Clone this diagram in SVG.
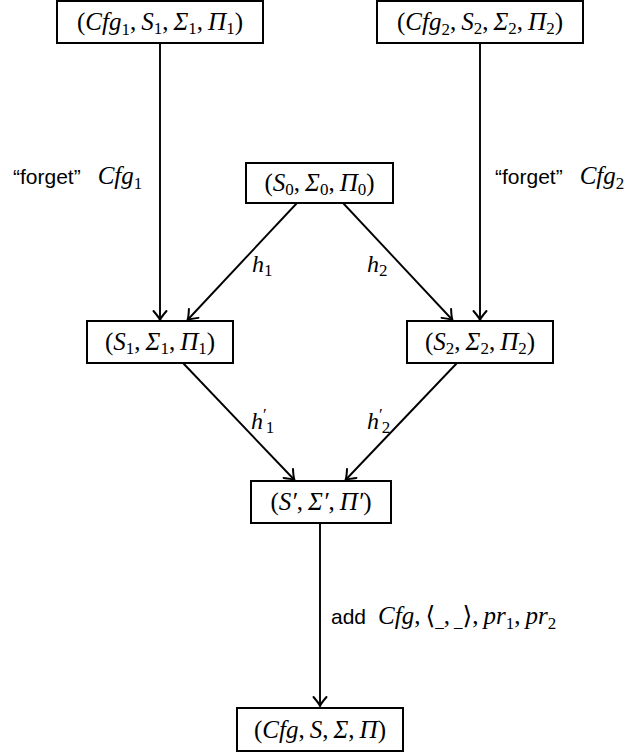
<svg xmlns="http://www.w3.org/2000/svg" width="631" height="756" viewBox="0 0 631 756">
<style>
.box{fill:#fff;stroke:#000;stroke-width:2}
.m{font-family:"Liberation Serif","DejaVu Serif",serif;font-size:25px;fill:#000}
.h{font-size:24px}
.i{font-style:italic}
.s{font-size:17px;font-style:normal}
.t{font-family:"Liberation Sans","DejaVu Sans",sans-serif;font-size:21px;fill:#000}
.c{stroke:#000;stroke-width:1.9;fill:none}
</style>
<defs>
<marker id="ah" markerUnits="userSpaceOnUse" viewBox="-12 -8 14 16" refX="0" refY="0" markerWidth="14" markerHeight="16" orient="auto" overflow="visible">
<path d="M -9,-6.5 Q -3,-1.3 0,0 Q -3,1.3 -9,6.5" fill="none" stroke="#000" stroke-width="2" stroke-linecap="round" stroke-linejoin="round"/>
</marker>
</defs>
<g id="connectors">
<line class="c" x1="160" y1="43" x2="160" y2="320" marker-end="url(#ah)"/>
<line class="c" x1="480" y1="43" x2="480" y2="320" marker-end="url(#ah)"/>
<line class="c" x1="297" y1="203" x2="187.5" y2="320" marker-end="url(#ah)"/>
<line class="c" x1="343" y1="203" x2="452.5" y2="320" marker-end="url(#ah)"/>
<line class="c" x1="183" y1="363" x2="294.5" y2="480" marker-end="url(#ah)"/>
<line class="c" x1="457" y1="363" x2="345.5" y2="480" marker-end="url(#ah)"/>
<line class="c" x1="320" y1="523" x2="320" y2="706" marker-end="url(#ah)"/>
</g>
<g id="labels">
<text x="13" y="184"><tspan class="t">“forget”</tspan><tspan class="m i" dx="17">Cfg</tspan><tspan class="m s" dy="5">1</tspan></text>
<text x="495" y="184"><tspan class="t">“forget”</tspan><tspan class="m i" dx="17">Cfg</tspan><tspan class="m s" dy="5">2</tspan></text>
<text class="m h" x="252" y="272"><tspan class="i">h</tspan><tspan class="s" dy="4">1</tspan></text>
<text class="m h" x="367" y="272"><tspan class="i">h</tspan><tspan class="s" dy="4">2</tspan></text>
<text class="m h" x="251" y="429"><tspan class="i">h</tspan><tspan class="s" dy="-9">′</tspan><tspan class="s" dx="-1" dy="13">1</tspan></text>
<text class="m h" x="367" y="429"><tspan class="i">h</tspan><tspan class="s" dy="-9">′</tspan><tspan class="s" dx="-1" dy="13">2</tspan></text>
<text x="331" y="624"><tspan class="t">add</tspan><tspan class="m i" dx="12">Cfg</tspan><tspan class="m">,</tspan><tspan class="m" dx="5">⟨</tspan><tspan class="m s" dy="3">_</tspan><tspan class="m" dy="-3">,</tspan><tspan class="m s" dx="4" dy="3">_</tspan><tspan class="m" dy="-3">⟩,</tspan><tspan class="m i" dx="5">pr</tspan><tspan class="m s" dy="5">1</tspan><tspan class="m" dy="-5">,</tspan><tspan class="m i" dx="5">pr</tspan><tspan class="m s" dy="5">2</tspan></text>
</g>
<g id="n1">
<rect class="box" x="57" y="1" width="206" height="42"/>
<text class="m" x="160" y="30" text-anchor="middle">(<tspan class="i">Cfg</tspan><tspan class="s" dy="5">1</tspan><tspan dy="-5">,</tspan><tspan class="i" dx="5">S</tspan><tspan class="s" dy="4">1</tspan><tspan dy="-4">,</tspan><tspan class="i" dx="5">Σ</tspan><tspan class="s" dy="4">1</tspan><tspan dy="-4">,</tspan><tspan class="i" dx="5">Π</tspan><tspan class="s" dy="4">1</tspan><tspan dy="-4">)</tspan></text>
</g>
<g id="n2">
<rect class="box" x="377" y="1" width="206" height="42"/>
<text class="m" x="480" y="30" text-anchor="middle">(<tspan class="i">Cfg</tspan><tspan class="s" dy="5">2</tspan><tspan dy="-5">,</tspan><tspan class="i" dx="5">S</tspan><tspan class="s" dy="4">2</tspan><tspan dy="-4">,</tspan><tspan class="i" dx="5">Σ</tspan><tspan class="s" dy="4">2</tspan><tspan dy="-4">,</tspan><tspan class="i" dx="5">Π</tspan><tspan class="s" dy="4">2</tspan><tspan dy="-4">)</tspan></text>
</g>
<g id="n0">
<rect class="box" x="246" y="163" width="147" height="40"/>
<text class="m" x="319.5" y="191" text-anchor="middle">(<tspan class="i">S</tspan><tspan class="s" dy="4">0</tspan><tspan dy="-4">,</tspan><tspan class="i" dx="5">Σ</tspan><tspan class="s" dy="4">0</tspan><tspan dy="-4">,</tspan><tspan class="i" dx="5">Π</tspan><tspan class="s" dy="4">0</tspan><tspan dy="-4">)</tspan></text>
</g>
<g id="s1">
<rect class="box" x="87" y="321" width="146" height="42"/>
<text class="m" x="160" y="350" text-anchor="middle">(<tspan class="i">S</tspan><tspan class="s" dy="4">1</tspan><tspan dy="-4">,</tspan><tspan class="i" dx="5">Σ</tspan><tspan class="s" dy="4">1</tspan><tspan dy="-4">,</tspan><tspan class="i" dx="5">Π</tspan><tspan class="s" dy="4">1</tspan><tspan dy="-4">)</tspan></text>
</g>
<g id="s2">
<rect class="box" x="407" y="321" width="146" height="42"/>
<text class="m" x="480" y="350" text-anchor="middle">(<tspan class="i">S</tspan><tspan class="s" dy="4">2</tspan><tspan dy="-4">,</tspan><tspan class="i" dx="5">Σ</tspan><tspan class="s" dy="4">2</tspan><tspan dy="-4">,</tspan><tspan class="i" dx="5">Π</tspan><tspan class="s" dy="4">2</tspan><tspan dy="-4">)</tspan></text>
</g>
<g id="sp">
<rect class="box" x="251" y="481" width="140" height="42"/>
<text class="m" x="321" y="510" text-anchor="middle">(<tspan class="i">S′</tspan>,<tspan class="i" dx="5">Σ′</tspan>,<tspan class="i" dx="5">Π′</tspan>)</text>
</g>
<g id="final">
<rect class="box" x="237" y="708" width="166" height="43"/>
<text class="m" x="320" y="738" text-anchor="middle">(<tspan class="i">Cfg</tspan>,<tspan class="i" dx="5">S</tspan>,<tspan class="i" dx="5">Σ</tspan>,<tspan class="i" dx="5">Π</tspan>)</text>
</g>
</svg>
